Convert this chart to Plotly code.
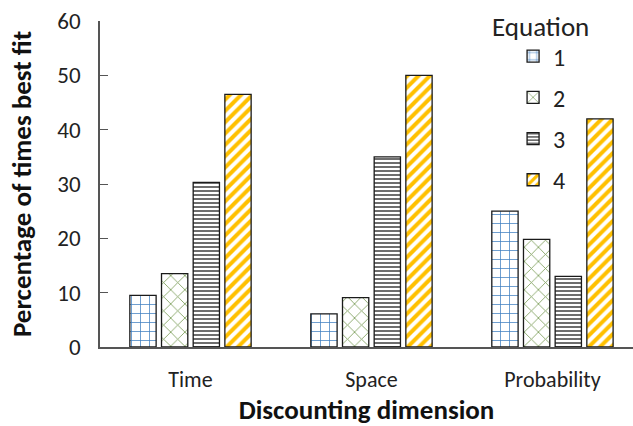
import plotly.graph_objects as go

# Share of participants for whom each discounting equation gave the best fit
dimensions = ["Time", "Space", "Probability"]
equations = ["1", "2", "3", "4"]
eq1 = [9.5, 6.1, 25.0]
eq2 = [13.5, 9.1, 19.8]
eq3 = [30.3, 35.0, 13.0]
eq4 = [46.5, 50.0, 42.0]
series = [eq1, eq2, eq3, eq4]

patterns = [
    dict(shape="+", fgcolor="#3f7fc0", bgcolor="white", size=9, solidity=0.16, fgopacity=1),
    dict(shape="x", fgcolor="#7b9e5a", bgcolor="white", size=10, solidity=0.16, fgopacity=1),
    dict(shape="-", fgcolor="#6e6e6e", bgcolor="white", size=4, solidity=0.5, fgopacity=1),
    dict(shape="/", fgcolor="#ffc000", bgcolor="white", size=8, solidity=0.5, fgopacity=1),
]

FONT = "Carlito, Lato, 'Open Sans', sans-serif"

fig = go.Figure()
for name, vals, pat in zip(equations, series, patterns):
    fig.add_trace(go.Bar(
        x=dimensions, y=vals, name=name, legendgroup=name,
        marker=dict(color="white", pattern=pat,
                    line=dict(color="#1a1a1a", width=1.3)),
    ))

fig.update_layout(
    width=633, height=426,
    margin=dict(l=100, r=0, t=21, b=79),
    paper_bgcolor="white", plot_bgcolor="white",
    barmode="group", bargap=0.30, bargroupgap=0.17,
    font=dict(family=FONT, color="#222"),
    showlegend=True,
    legend=dict(
        x=0.775, y=0.96, xanchor="left", yanchor="top",
        font=dict(size=24, family=FONT, color="#222"),
        traceorder="grouped", tracegroupgap=7,
        bgcolor="rgba(0,0,0,0)", itemclick=False,
    ),
    annotations=[dict(
        text="Equation", xref="paper", yref="paper",
        x=0.732, y=0.982, xanchor="left", yanchor="middle",
        showarrow=False, font=dict(size=27, family=FONT, color="#222"),
    )],
)

fig.update_xaxes(
    range=[-0.5, 2.445], showline=True, linecolor="#555", linewidth=1.5,
    ticks="", showgrid=False, automargin=False, ticklabelstandoff=12,
    tickfont=dict(size=22, family=FONT, color="#222"),
    title=dict(text="<b>Discounting dimension</b>",
               font=dict(size=27, family=FONT, color="#111"), standoff=12),
)
fig.update_yaxes(
    range=[0, 60], dtick=10, showline=True, linecolor="#555", linewidth=1.5,
    ticks="inside", ticklen=8, tickcolor="#555", showgrid=False,
    automargin=False, ticklabelstandoff=13,
    tickfont=dict(size=23, family=FONT, color="#222"),
    title=dict(text="<b>Percentage of times best fit</b>",
               font=dict(size=27, family=FONT, color="#111"), standoff=18),
)

fig.write_html("out.html")
